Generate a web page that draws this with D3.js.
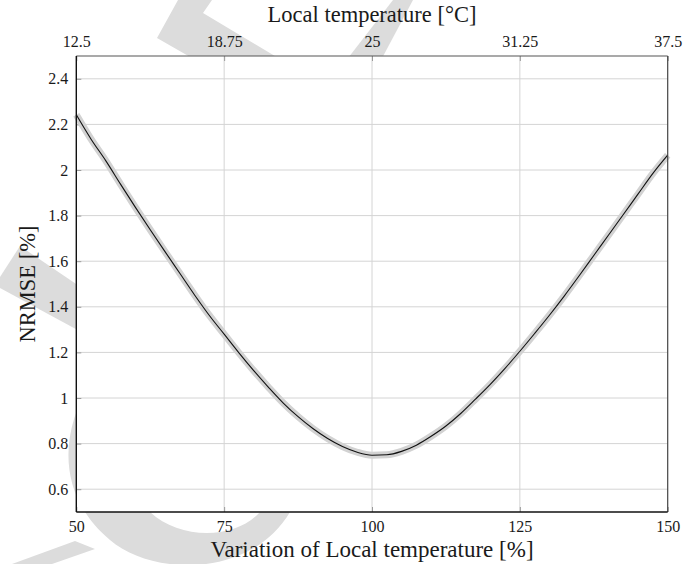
<!DOCTYPE html>
<html>
<head>
<meta charset="utf-8">
<script src="https://cdn.jsdelivr.net/npm/d3@7"></script>
<style>
  body { margin: 0; background: #fff; }
  text { font-family: "Liberation Serif", "Times New Roman", "DejaVu Serif", serif; fill: #1a1a1a; }
</style>
</head>
<body>
<svg id="chart"></svg>
<script>
// values
var variation = [50, 52.5, 55, 57.5, 60, 62.5, 65, 67.5, 70, 72.5, 75, 77.5, 80, 82.5, 85, 87.5,
                 90, 92.5, 95, 97.5, 100, 102.5, 105, 107.5, 110, 112.5, 115, 117.5, 120, 122.5,
                 125, 127.5, 130, 132.5, 135, 137.5, 140, 142.5, 145, 147.5, 150];
var nrmse = [2.242, 2.135, 2.04, 1.937, 1.836, 1.738, 1.642, 1.547, 1.452, 1.362, 1.28, 1.198, 1.12,
             1.047, 0.978, 0.918, 0.866, 0.822, 0.787, 0.762, 0.749, 0.751, 0.766, 0.793, 0.832,
             0.877, 0.932, 0.995, 1.06, 1.13, 1.205, 1.283, 1.363, 1.447, 1.535, 1.625, 1.715,
             1.805, 1.895, 1.985, 2.065];
var bottomTicks = [50, 75, 100, 125, 150];
var topTicks = [12.5, 18.75, 25, 31.25, 37.5];
var yTicks = [0.6, 0.8, 1, 1.2, 1.4, 1.6, 1.8, 2, 2.2, 2.4];

// light grey logo behind the figure
var watermark = [
  "M178,0 L212,0 L203,13 L320,83 L260,97 L157,38 Z",
  "M393,0 L413,0 L380,62 L345,62 Z",
  "M0,277 L20,246 L85,290 L85,334 L0,288 Z",
  "M92,380 C55,440 62,500 110,540 C150,575 250,580 290,512 L305,470 L272,470 L260,512 C235,540 180,540 150,512 C118,480 115,430 130,380 Z",
  "M12,564 L75,541 L95,549 L52,564 Z"
];

var width = 699, height = 564;
var margin = {top: 56, right: 31.3, bottom: 52, left: 76.3};
var w = width - margin.left - margin.right;
var h = height - margin.top - margin.bottom;

var svg = d3.select("#chart")
  .attr("width", width)
  .attr("height", height);

svg.append("g")
  .selectAll("path")
  .data(watermark)
  .enter().append("path")
    .attr("d", function(d) { return d; })
    .attr("fill", "#dcdcdc");

var g = svg.append("g")
  .attr("transform", "translate(" + margin.left + "," + margin.top + ")");

g.append("rect")
  .attr("width", w)
  .attr("height", h)
  .attr("fill", "#fff");

var x = d3.scaleLinear().domain([50, 150]).range([0, w]);
var xTop = d3.scaleLinear().domain([12.5, 37.5]).range([0, w]);
var y = d3.scaleLinear().domain([0.5, 2.5]).range([h, 0]);

// grid
g.append("g")
  .selectAll("line")
  .data(yTicks)
  .enter().append("line")
    .attr("x1", 0)
    .attr("x2", w)
    .attr("y1", function(d) { return y(d); })
    .attr("y2", function(d) { return y(d); })
    .attr("stroke", "#d4d4d4")
    .attr("stroke-width", 1);
g.append("g")
  .selectAll("line")
  .data(bottomTicks.slice(1, -1))
  .enter().append("line")
    .attr("x1", function(d) { return x(d); })
    .attr("x2", function(d) { return x(d); })
    .attr("y1", 0)
    .attr("y2", h)
    .attr("stroke", "#d4d4d4")
    .attr("stroke-width", 1);

// axes
var bottomAxis = g.append("g")
  .attr("transform", "translate(0," + h + ")")
  .call(d3.axisBottom(x).tickValues(bottomTicks).tickSize(-5).tickPadding(9)
        .tickFormat(function(d) { return String(d); }));
var topAxis = g.append("g")
  .call(d3.axisTop(xTop).tickValues(topTicks).tickSize(-5).tickPadding(9)
        .tickFormat(function(d) { return String(d); }));
var leftAxis = g.append("g")
  .call(d3.axisLeft(y).tickValues(yTicks).tickSize(-5).tickPadding(8)
        .tickFormat(function(d) { return String(d); }));

[bottomAxis, topAxis, leftAxis].forEach(function(a) {
  a.attr("font-family", null);
  a.select(".domain").remove();
  a.selectAll(".tick line").attr("stroke", "#9a9a9a");
  a.selectAll("text")
    .style("font-size", "16px")
    .attr("fill", "#1a1a1a");
});

// curve: grey band under a thin black line
var line = d3.line()
  .x(function(d, i) { return x(variation[i]); })
  .y(function(d) { return y(d); })
  .curve(d3.curveMonotoneX);

g.append("path")
  .datum(nrmse)
  .attr("d", line)
  .attr("fill", "none")
  .attr("stroke", "#d2d2d2")
  .attr("stroke-width", 7)
  .attr("stroke-linejoin", "round");
g.append("path")
  .datum(nrmse)
  .attr("d", line)
  .attr("fill", "none")
  .attr("stroke", "#111")
  .attr("stroke-width", 1.1);

// frame
g.append("line").attr("x1", 0).attr("x2", w).attr("y1", 0).attr("y2", 0)
  .attr("stroke", "#555").attr("stroke-width", 1.2);
g.append("line").attr("x1", w).attr("x2", w).attr("y1", 0).attr("y2", h)
  .attr("stroke", "#444").attr("stroke-width", 1.2);
g.append("line").attr("x1", 0).attr("x2", 0).attr("y1", 0).attr("y2", h)
  .attr("stroke", "#111").attr("stroke-width", 1.4);
g.append("line").attr("x1", 0).attr("x2", w).attr("y1", h).attr("y2", h)
  .attr("stroke", "#111").attr("stroke-width", 1.4);

// titles
svg.append("text")
  .attr("x", margin.left + w / 2)
  .attr("y", 22)
  .attr("text-anchor", "middle")
  .style("font-size", "22.5px")
  .text("Local temperature [°C]");
svg.append("text")
  .attr("x", margin.left + w / 2)
  .attr("y", 557)
  .attr("text-anchor", "middle")
  .style("font-size", "23px")
  .text("Variation of Local temperature [%]");
svg.append("text")
  .attr("transform", "translate(35," + (margin.top + h / 2) + ") rotate(-90)")
  .attr("text-anchor", "middle")
  .style("font-size", "22.5px")
  .text("NRMSE [%]");
</script>
</body>
</html>
